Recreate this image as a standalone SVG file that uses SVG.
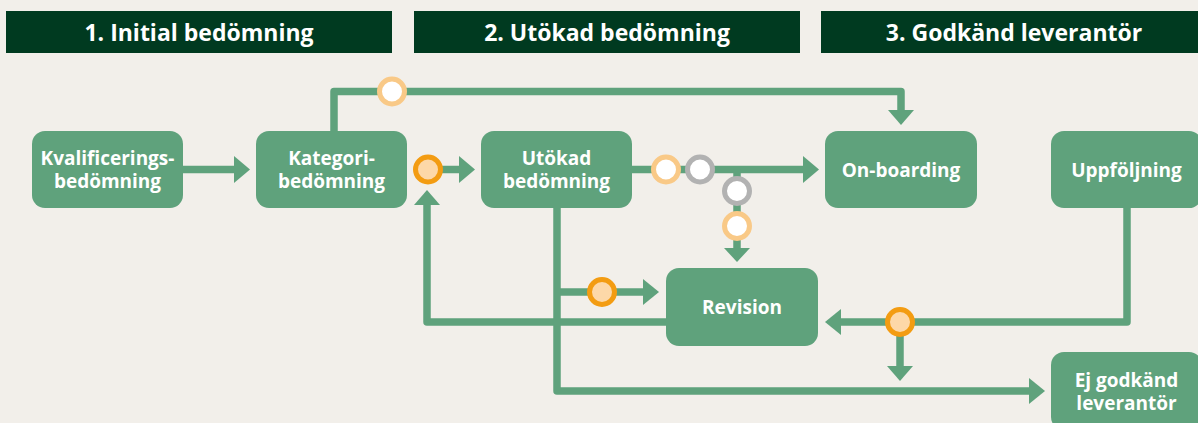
<svg xmlns="http://www.w3.org/2000/svg" width="1198" height="423" viewBox="0 0 1198 423">
<defs>
<style>
.hdr{fill:#003a20}
.htxt{font-family:"Open Sans","Liberation Sans",sans-serif;font-weight:700;font-size:23px;fill:#ffffff;text-anchor:middle}
.node{fill:#5fa27c}
.ntxt{font-family:"Open Sans","Liberation Sans",sans-serif;font-weight:700;font-size:19px;fill:#ffffff;text-anchor:middle}
.ln{fill:none;stroke:#5fa27c;stroke-width:7.5;stroke-linejoin:round}
.ah{fill:#5fa27c}
.c-or{fill:#fdd8a8;stroke:#f39c12;stroke-width:5}
.c-po{fill:#ffffff;stroke:#f9c987;stroke-width:5}
.c-gr{fill:#ffffff;stroke:#b2b2b2;stroke-width:5}
</style>
</defs>
<rect width="1198" height="423" fill="#f2efea"/>
<g id="headers">
<rect class="hdr" x="6" y="11" width="386" height="42"/>
<text class="htxt" x="199" y="41">1. Initial bedömning</text>
<rect class="hdr" x="414" y="11" width="386" height="42"/>
<text class="htxt" x="607" y="41">2. Utökad bedömning</text>
<rect class="hdr" x="821" y="11" width="386" height="42"/>
<text class="htxt" x="1014" y="41">3. Godkänd leverantör</text>
</g>
<g id="connectors">
<path class="ln" d="M183 169.5 H236"/>
<polygon class="ah" points="234,156 250,169.5 234,183"/>
<path class="ln" d="M334 131 V91.5 H901 V112"/>
<polygon class="ah" points="888,110 914,110 901,125"/>
<path class="ln" d="M428 169.5 H461"/>
<polygon class="ah" points="459,156 475,169.5 459,183"/>
<path class="ln" d="M666 322 H427 V203"/>
<polygon class="ah" points="414,205 440,205 427,190"/>
<path class="ln" d="M632 169.5 H805"/>
<polygon class="ah" points="803,156 819,169.5 803,183"/>
<path class="ln" d="M737 169.5 V250"/>
<polygon class="ah" points="724,248 750,248 737,262"/>
<path class="ln" d="M557 208 V391 H1031"/>
<polygon class="ah" points="1029,378 1045,391 1029,404"/>
<path class="ln" d="M557 292 H645"/>
<polygon class="ah" points="643,279 659,292 643,305"/>
<path class="ln" d="M1127 208 V322 H839"/>
<polygon class="ah" points="841,309 825,322 841,335"/>
<path class="ln" d="M900 322 V368"/>
<polygon class="ah" points="887,366 913,366 900,381"/>
<circle class="c-po" cx="392" cy="91.5" r="12.5"/>
<circle class="c-or" cx="428" cy="169.5" r="12.5"/>
<circle class="c-po" cx="666" cy="169.5" r="12.5"/>
<circle class="c-gr" cx="700" cy="169.5" r="12.5"/>
<circle class="c-gr" cx="737" cy="191" r="12.5"/>
<circle class="c-po" cx="737" cy="226" r="12.5"/>
<circle class="c-or" cx="602" cy="292" r="12.5"/>
<circle class="c-or" cx="900" cy="322" r="12.5"/>
</g>
<g id="kvalificering">
<rect class="node" x="32" y="131" width="151" height="77" rx="13"/>
<text class="ntxt" x="107.5" y="165">Kvalificerings-</text>
<text class="ntxt" x="107.5" y="188">bedömning</text>
</g>
<g id="kategori">
<rect class="node" x="256" y="131" width="151" height="77" rx="13"/>
<text class="ntxt" x="331.5" y="165">Kategori-</text>
<text class="ntxt" x="331.5" y="188">bedömning</text>
</g>
<g id="utokad">
<rect class="node" x="481" y="131" width="151" height="77" rx="13"/>
<text class="ntxt" x="556.5" y="165">Utökad</text>
<text class="ntxt" x="556.5" y="188">bedömning</text>
</g>
<g id="onboarding">
<rect class="node" x="825" y="131" width="152" height="77" rx="13"/>
<text class="ntxt" x="901" y="176.5">On-boarding</text>
</g>
<g id="uppfoljning">
<rect class="node" x="1051" y="131" width="151" height="77" rx="13"/>
<text class="ntxt" x="1126.5" y="176.5">Uppföljning</text>
</g>
<g id="revision">
<rect class="node" x="666" y="268" width="152" height="78" rx="13"/>
<text class="ntxt" x="742" y="314">Revision</text>
</g>
<g id="ejgodkand">
<rect class="node" x="1051" y="352" width="151" height="78" rx="13"/>
<text class="ntxt" x="1126.5" y="387">Ej godkänd</text>
<text class="ntxt" x="1126.5" y="410">leverantör</text>
</g>
</svg>
